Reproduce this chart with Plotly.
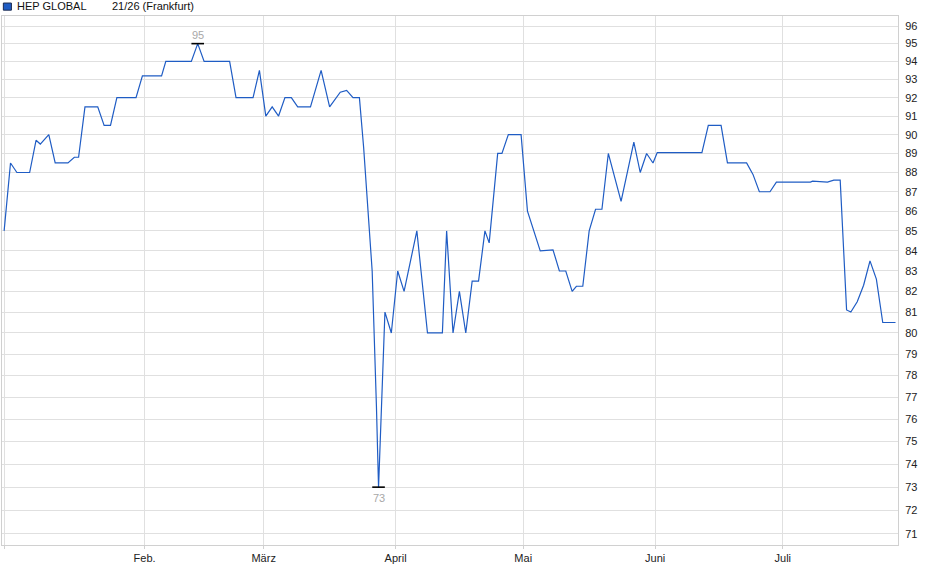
import math
import plotly.graph_objects as go

dates = [
    "2024-12-30", "2024-12-31 12:00", "2025-01-02", "2025-01-05", "2025-01-06 12:00",
    "2025-01-07 12:00", "2025-01-09 12:00", "2025-01-11", "2025-01-14", "2025-01-15 12:00",
    "2025-01-16 12:00", "2025-01-18", "2025-01-21", "2025-01-22 12:00", "2025-01-24",
    "2025-01-25 12:00", "2025-01-30", "2025-01-31 12:00", "2025-02-05", "2025-02-06",
    "2025-02-12", "2025-02-13 12:00", "2025-02-15", "2025-02-21", "2025-02-22 12:00",
    "2025-02-26 12:00", "2025-02-28", "2025-03-01 12:00", "2025-03-03", "2025-03-04 12:00",
    "2025-03-06", "2025-03-07 12:00", "2025-03-09", "2025-03-12", "2025-03-14 12:00",
    "2025-03-16 12:00", "2025-03-19", "2025-03-20 12:00", "2025-03-22", "2025-03-23 12:00",
    "2025-03-24 12:00", "2025-03-26 12:00", "2025-03-27 12:00", "2025-03-28", "2025-03-29 12:00",
    "2025-03-31", "2025-04-01 12:00", "2025-04-03", "2025-04-06", "2025-04-08 12:00",
    "2025-04-12", "2025-04-13", "2025-04-14 12:00", "2025-04-16", "2025-04-17 12:00",
    "2025-04-19", "2025-04-20 12:00", "2025-04-22", "2025-04-23", "2025-04-25",
    "2025-04-26", "2025-04-27 12:00", "2025-04-30 12:00", "2025-05-02", "2025-05-05",
    "2025-05-08", "2025-05-09 12:00", "2025-05-11", "2025-05-12 12:00", "2025-05-13 12:00",
    "2025-05-15", "2025-05-16 12:00", "2025-05-18", "2025-05-19 12:00", "2025-05-21",
    "2025-05-24", "2025-05-27", "2025-05-28 12:00", "2025-05-30", "2025-05-31 12:00",
    "2025-06-01 12:00", "2025-06-12", "2025-06-13 12:00", "2025-06-16 12:00", "2025-06-18",
    "2025-06-22 12:00", "2025-06-24", "2025-06-25 12:00", "2025-06-28", "2025-06-29 12:00",
    "2025-07-07 12:00", "2025-07-08", "2025-07-11 12:00", "2025-07-13", "2025-07-14 12:00",
    "2025-07-16", "2025-07-17", "2025-07-18 12:00", "2025-07-20", "2025-07-21 12:00",
    "2025-07-23", "2025-07-24 12:00", "2025-07-27 12:00",
]
prices = [
    85.0, 88.5, 88.0, 88.0, 89.7,
    89.5, 90.0, 88.5, 88.5, 88.8,
    88.8, 91.5, 91.5, 90.5, 90.5,
    92.0, 92.0, 93.2, 93.2, 94.0,
    94.0, 95.0, 94.0, 94.0, 92.0,
    92.0, 93.5, 91.0, 91.5, 91.0,
    92.0, 92.0, 91.5, 91.5, 93.5,
    91.5, 92.3, 92.4, 92.0, 92.0,
    89.3, 83.0, 76.6, 73.0, 81.0,
    80.0, 83.0, 82.0, 85.0, 80.0,
    80.0, 85.0, 80.0, 82.0, 80.0,
    82.5, 82.5, 85.0, 84.4, 89.0,
    89.0, 90.0, 90.0, 86.0, 84.0,
    84.05, 83.0, 83.0, 82.0, 82.25,
    82.25, 85.0, 86.1, 86.1, 89.0,
    86.5, 89.6, 88.0, 89.0, 88.5,
    89.05, 89.05, 90.5, 90.5, 88.5,
    88.5, 87.9, 87.0, 87.0, 87.5,
    87.5, 87.55, 87.5, 87.6, 87.6,
    81.1, 81.0, 81.5, 82.3, 83.5,
    82.6, 80.5, 80.5,
]

month_ticks = ["2024-12-30", "2025-02-01", "2025-03-01", "2025-04-01",
               "2025-05-01", "2025-06-01", "2025-07-01"]
month_labels = ["", "Feb.", "März", "April", "Mai", "Juni", "Juli"]
y_ticks = list(range(71, 97))

GRID = "#e0e0e0"
FRAME = "#d0d0d0"
BLUE = "#1f5cc4"
FONT = "Liberation Sans, Arial, sans-serif"

fig = go.Figure()

fig.add_trace(go.Scatter(
    x=dates, y=prices,
    mode="lines",
    line=dict(color=BLUE, width=1.2),
    hoverinfo="x+y",
    showlegend=False,
))

# Hoch / Tief markieren
i_max = prices.index(max(prices))
i_min = prices.index(min(prices))
fig.add_trace(go.Scatter(
    x=[dates[i_max], dates[i_min]],
    y=[prices[i_max], prices[i_min]],
    mode="markers",
    marker=dict(symbol="line-ew", size=9, line=dict(color="black", width=1.6)),
    hoverinfo="skip",
    showlegend=False,
))
# auf log-Achsen erwarten Annotationen log10-Werte
fig.add_annotation(x=dates[i_max], y=math.log10(prices[i_max]), text=f"{prices[i_max]:g}",
                   showarrow=False, yshift=9, font=dict(size=11, color="#a8a8a8"))
fig.add_annotation(x=dates[i_min], y=math.log10(prices[i_min]), text=f"{prices[i_min]:g}",
                   showarrow=False, yshift=-11, font=dict(size=11, color="#a8a8a8"))

# Kopfzeile (Legende)
fig.add_shape(type="rect", xref="paper", yref="paper",
              x0=0.0015, x1=0.0105, y0=1.011, y1=1.0245,
              fillcolor=BLUE, line=dict(color="#1a2a50", width=1))
fig.add_annotation(xref="paper", yref="paper", x=0.014, y=1.018, xanchor="left",
                   yanchor="middle", text="HEP GLOBAL", showarrow=False,
                   font=dict(size=11, color="#111"))
fig.add_annotation(xref="paper", yref="paper", x=0.121, y=1.018, xanchor="left",
                   yanchor="middle", text="21/26 (Frankfurt)", showarrow=False,
                   font=dict(size=11, color="#111"))

fig.update_layout(
    width=940, height=579,
    margin=dict(l=2, r=42, t=16, b=34),
    paper_bgcolor="white",
    plot_bgcolor="white",
    font=dict(family=FONT, size=11, color="#222"),
    hovermode="closest",
)

fig.update_xaxes(
    type="date",
    range=["2024-12-29 12:00", "2025-07-28 02:00"],
    tickmode="array", tickvals=month_ticks, ticktext=month_labels,
    showgrid=True, gridcolor=GRID, gridwidth=1,
    showline=True, linecolor=FRAME, linewidth=1, mirror=True,
    ticks="outside", ticklen=3, tickcolor=FRAME,
    tickfont=dict(size=11, color="#222"),
    zeroline=False,
)
fig.update_yaxes(
    type="log",
    range=[1.8484, 1.98485],
    side="right",
    tickmode="array", tickvals=y_ticks, ticktext=[str(v) for v in y_ticks],
    showgrid=True, gridcolor=GRID, gridwidth=1,
    showline=True, linecolor=FRAME, linewidth=1, mirror=True,
    ticks="", ticklabelstandoff=4,
    tickfont=dict(size=11, color="#222"),
    zeroline=False,
)

# Seitenrand entfernen, damit das Diagramm bei (0,0) beginnt
fig.write_html("out.html", config={"displayModeBar": False},
               post_script="document.body.style.margin='0px';")
